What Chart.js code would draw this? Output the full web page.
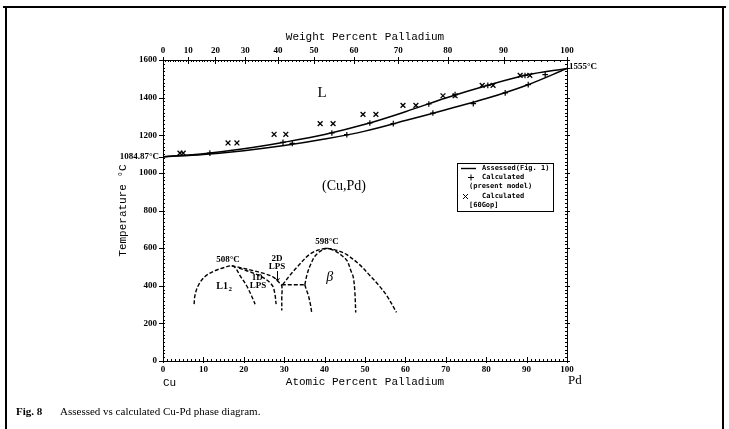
<!DOCTYPE html>
<html lang="en">
<head>
  <meta charset="UTF-8">
  <title>Cu-Pd phase diagram</title>
  <script src="https://cdn.jsdelivr.net/npm/chart.js"></script>
  <style>
    html, body { margin: 0; padding: 0; background: #fff; }
    canvas { display: block; }
  </style>
</head>
<body>
  <canvas id="cuPd" width="729" height="429"></canvas>

  <script>
    // axis ticks
    const atTicks = [0, 10, 20, 30, 40, 50, 60, 70, 80, 90, 100];
    const wtTicks = [0, 10, 20, 30, 40, 50, 60, 70, 80, 90, 100];
    const tTicks  = [0, 200, 400, 600, 800, 1000, 1200, 1400, 1600];

    // assessed liquidus / solidus (at.% Pd, °C)
    const liqAt = [0, 10, 20, 30, 40, 50, 60, 70, 80, 90, 100];
    const liqT  = [1084.87, 1102, 1128, 1163, 1204, 1258, 1325, 1398, 1463, 1520, 1555];
    const solAt = [0, 10, 20, 30, 40, 50, 60, 70, 80, 90, 100];
    const solT  = [1084.87, 1098, 1118, 1145, 1180, 1222, 1278, 1336, 1395, 1466, 1555];

    // calculated, present model (+)
    const calcAt = [11.6, 29.7, 32.0, 41.8, 45.5, 51.2, 57.0, 65.8, 66.8, 72.3, 76.8, 80.4, 84.7, 89.6, 90.4, 94.6];
    const calcT  = [1105, 1162, 1157, 1212, 1203, 1265, 1262, 1366, 1318, 1416, 1368, 1465, 1425, 1518, 1469, 1522];

    // calculated [60Gop] (x)
    const gopAt = [4.2, 5.0, 16.1, 18.3, 27.5, 30.4, 38.9, 42.1, 49.5, 52.7, 59.4, 62.6, 69.3, 72.3, 79.0, 81.7, 88.4, 90.8];
    const gopT  = [1105, 1105, 1159, 1159, 1205, 1205, 1262, 1262, 1311, 1311, 1359, 1359, 1410, 1410, 1465, 1465, 1518, 1518];

    // low temperature ordering boundaries (dashed)
    const l12At = [7.7, 7.9, 8.7, 10.4, 12.9, 15.3, 17.0, 17.9, 19.1, 20.7, 21.9, 22.8];
    const l12T  = [302, 347, 400, 449, 480, 498, 506, 495, 453, 400, 347, 302];
    const lps2At = [17.0, 18.6, 22.0, 25.2, 27.3, 28.5, 29.4, 29.4, 29.4];
    const lps2T  = [506, 499, 482, 464, 446, 422, 400, 340, 268];
    const lps1At = [18.8, 22.0, 25.2, 27.1, 27.7, 28.0];
    const lps1T  = [494, 470, 438, 400, 355, 302];
    const tieAt = [29.4, 35.1];
    const tieT  = [405, 405];
    const betaOutAt = [29.6, 31.5, 33.5, 36.5, 40.3, 43.5, 45.5, 48.5, 51.2, 53.5, 55.4, 57.8];
    const betaOutT  = [405, 458, 506, 570, 598, 585, 565, 515, 455, 400, 347, 258];
    const betaInAt = [35.1, 35.6, 36.4, 37.8, 40.3, 42.3, 43.8, 45.5, 46.5, 47.1, 47.5, 47.7];
    const betaInT  = [405, 455, 506, 562, 598, 588, 568, 535, 480, 446, 364, 258];
    const betaLowAt = [35.1, 35.6, 36.0, 36.5, 36.8];
    const betaLowT  = [405, 372, 347, 300, 258];

    const pts = (xs, ys) => xs.map((v, i) => ({ x: v, y: ys[i] }));

    // weight % Pd -> atomic % Pd
    function wtToAt(w) {
      if (w <= 0) return 0;
      if (w >= 100) return 100;
      const p = w / 106.42, c = (100 - w) / 63.546;
      return 100 * p / (p + c);
    }

    const solid = { showLine: true, pointRadius: 0, borderColor: '#000', borderWidth: 1.5, tension: 0.35, fill: false };
    const dashed = { ...solid, borderWidth: 1.4, borderDash: [4, 2] };

    const tickFont = { family: 'Liberation Serif', size: 9, weight: 'bold' };
    const titleFont = { family: 'Liberation Mono', size: 11 };

    // in-plot labels, frame, minor ticks, legend
    const decor = {
      id: 'decor',
      afterDraw(chart) {
        const { ctx, chartArea: a, scales: { x, y } } = chart;
        const X = v => x.getPixelForValue(v), Y = v => y.getPixelForValue(v);
        ctx.save();
        ctx.strokeStyle = '#000';
        ctx.fillStyle = '#000';
        ctx.lineWidth = 1;

        // tick marks
        ctx.beginPath();
        for (let v = 0; v <= 100; v++) {
          const px = Math.round(X(v)) + 0.5;
          const len = v % 10 === 0 ? 4 : 2;
          ctx.moveTo(px, a.bottom + (v % 10 === 0 ? 2 : 0)); ctx.lineTo(px, a.bottom - len);
        }
        for (let w = 0; w <= 100; w++) {
          const px = Math.round(X(wtToAt(w))) + 0.5;
          if (w % 10 === 0) { ctx.moveTo(px, a.top - 3); ctx.lineTo(px, a.top + 4); }
          else { ctx.moveTo(px, a.top); ctx.lineTo(px, a.top + 2); }
        }
        for (let t = 0; t <= 1600; t += 20) {
          const py = Math.round(Y(t)) + 0.5;
          const major = t % 200 === 0;
          ctx.moveTo(a.left - (major ? 4 : 0), py); ctx.lineTo(a.left + 2, py);
          ctx.moveTo(a.right - 2, py); ctx.lineTo(a.right + (major ? 3 : 1), py);
        }
        // melting point marks
        ctx.moveTo(a.left - 4, Math.round(Y(1084.87)) + 0.5); ctx.lineTo(a.left, Math.round(Y(1084.87)) + 0.5);
        ctx.moveTo(a.right, Math.round(Y(1555)) + 0.5); ctx.lineTo(a.right + 3, Math.round(Y(1555)) + 0.5);
        ctx.stroke();

        const txt = (s, px, py, font, align = 'center') => {
          ctx.font = font; ctx.textAlign = align; ctx.textBaseline = 'middle';
          ctx.fillText(s, px, py);
        };
        const small = 'bold 9px "Liberation Serif"';

        txt('1084.87°C', a.left - 4, Y(1084.87), small, 'right');
        txt('1555°C', a.right + 2, Y(1555) - 2, small, 'left');

        txt('L', X(39.4), Y(1423), '15px "Liberation Serif"');
        txt('(Cu,Pd)', X(44.8), Y(928), '14px "Liberation Serif"');
        txt('508°C', X(16.1), Y(540), small);
        txt('598°C', X(40.6), Y(636), small);
        txt('1D', X(23.3), Y(442), small);
        txt('LPS', X(23.5), Y(398), small);
        txt('2D', X(28.2), Y(542), small);
        txt('LPS', X(28.2), Y(499), small);
        // L1_2
        ctx.font = 'bold 10px "Liberation Serif"'; ctx.textAlign = 'left'; ctx.textBaseline = 'middle';
        const lx = X(13.2), ly = Y(398);
        ctx.fillText('L1', lx, ly);
        const lw = ctx.measureText('L1').width;
        ctx.font = 'bold 7px "Liberation Serif"';
        ctx.fillText('2', lx + lw + 0.5, ly + 3);
        txt('β', X(41.3), Y(444), 'italic 14px "Liberation Serif"');

        // 2D LPS pointer
        ctx.beginPath();
        const ax = Math.round(X(28.1)) + 0.5;
        ctx.moveTo(ax, Y(478)); ctx.lineTo(ax, Y(425));
        ctx.moveTo(ax - 2, Y(440)); ctx.lineTo(ax, Y(425)); ctx.lineTo(ax + 2, Y(440));
        ctx.stroke();

        // Cu / Pd under the axis ends
        txt('Cu', a.left, 383, '11px "Liberation Mono"', 'left');
        txt('Pd', a.right + 1, 381, '13px "Liberation Serif"', 'left');

        // legend
        const lgX = 457, lgY = 163, lgW = 96, lgH = 48;
        ctx.fillStyle = '#fff';
        ctx.fillRect(lgX, lgY, lgW, lgH);
        ctx.fillStyle = '#000';
        ctx.strokeRect(lgX + 0.5, lgY + 0.5, lgW, lgH);
        const lf = 'bold 7px "DejaVu Sans Mono"';
        ctx.beginPath();
        ctx.lineWidth = 1.4;
        ctx.moveTo(461, 168.5); ctx.lineTo(476, 168.5);
        ctx.stroke();
        ctx.lineWidth = 1;
        ctx.beginPath();
        ctx.moveTo(468, 177.5); ctx.lineTo(474, 177.5); ctx.moveTo(471, 174.5); ctx.lineTo(471, 180.5);
        ctx.moveTo(463, 194); ctx.lineTo(468, 199); ctx.moveTo(468, 194); ctx.lineTo(463, 199);
        ctx.stroke();
        const ds = chart.data.datasets;
        txt(ds[0].label, 482, 168, lf, 'left');
        const l1 = ds[2].label.split('\n'), l2 = ds[3].label.split('\n');
        txt(l1[0], 482, 177, lf, 'left');
        txt(l1[1], 469, 186, lf, 'left');
        txt(l2[0], 482, 196, lf, 'left');
        txt(l2[1], 469, 205, lf, 'left');

        // page frame and caption
        ctx.lineWidth = 2;
        ctx.beginPath();
        ctx.moveTo(3, 7); ctx.lineTo(726, 7);
        ctx.moveTo(6, 7); ctx.lineTo(6, 429);
        ctx.moveTo(723, 7); ctx.lineTo(723, 429);
        ctx.stroke();
        txt('Fig. 8', 16, 412, 'bold 11px "Liberation Serif"', 'left');
        txt('Assessed vs calculated Cu-Pd phase diagram.', 60, 412, '11px "Liberation Serif"', 'left');
        ctx.restore();
      }
    };

    const setTicks = list => scale => { scale.ticks = list.map(v => ({ value: v })); };

    new Chart(document.getElementById('cuPd'), {
      type: 'scatter',
      data: {
        datasets: [
          { ...solid, label: 'Assessed(Fig. 1)', data: pts(liqAt, liqT) },
          { ...solid, label: 'Assessed solidus', data: pts(solAt, solT) },
          { label: 'Calculated\n(present model)', data: pts(calcAt, calcT), pointStyle: 'cross', pointRadius: 2.8, borderColor: '#000', borderWidth: 1.2 },
          { label: 'Calculated\n[60Gop]', data: pts(gopAt, gopT), pointStyle: 'crossRot', pointRadius: 3.4, borderColor: '#000', borderWidth: 1.3 },
          { ...dashed, label: 'L12', data: pts(l12At, l12T) },
          { ...dashed, label: '2D LPS', data: pts(lps2At, lps2T) },
          { ...dashed, label: '1D LPS', data: pts(lps1At, lps1T) },
          { ...dashed, label: 'tie', data: pts(tieAt, tieT), tension: 0 },
          { ...dashed, label: 'beta outer', data: pts(betaOutAt, betaOutT) },
          { ...dashed, label: 'beta inner', data: pts(betaInAt, betaInT) },
          { ...dashed, label: 'beta low', data: pts(betaLowAt, betaLowT) }
        ]
      },
      options: {
        responsive: false,
        animation: false,
        layout: { padding: 0 },
        plugins: { legend: { display: false }, tooltip: { enabled: false } },
        scales: {
          x: {
            type: 'linear', position: 'bottom', min: 0, max: 100,
            afterFit: s => { s.height = 68; },
            afterBuildTicks: setTicks(atTicks),
            grid: { display: false, drawTicks: false },
            border: { display: true, color: '#000', width: 1 },
            ticks: { font: tickFont, color: '#000', padding: 3, maxRotation: 0, autoSkip: false, callback: v => String(v) },
            title: { display: true, text: 'Atomic Percent Palladium', font: titleFont, color: '#000', padding: { top: 0, bottom: 40.4 } }
          },
          x2: {
            type: 'linear', position: 'top', min: 0, max: 100,
            afterFit: s => { s.height = 60; },
            afterBuildTicks: s => { s.ticks = wtTicks.map(w => ({ value: wtToAt(w) })); },
            grid: { display: false, drawTicks: false },
            border: { display: true, color: '#000', width: 1 },
            ticks: { font: tickFont, color: '#000', padding: 4, maxRotation: 0, autoSkip: false, callback: (v, i) => String(wtTicks[i]) },
            title: { display: true, text: 'Weight Percent Palladium', font: titleFont, color: '#000', padding: { top: 30.4, bottom: 0 } }
          },
          y: {
            type: 'linear', position: 'left', min: 0, max: 1600,
            afterFit: s => { s.width = 163; },
            afterBuildTicks: setTicks(tTicks),
            grid: { display: false, drawTicks: false },
            border: { display: true, color: '#000', width: 1 },
            ticks: { font: tickFont, color: '#000', padding: 6, autoSkip: false, callback: v => String(v) },
            title: { display: true, text: 'Temperature °C', font: titleFont, color: '#000', padding: { top: 116.4, bottom: 0 } }
          },
          y2: {
            type: 'linear', position: 'right', min: 0, max: 1600,
            afterFit: s => { s.width = 162; },
            grid: { display: false, drawTicks: false },
            border: { display: true, color: '#000', width: 1 },
            ticks: { display: false }
          }
        }
      },
      plugins: [decor]
    });
  </script>
</body>
</html>
